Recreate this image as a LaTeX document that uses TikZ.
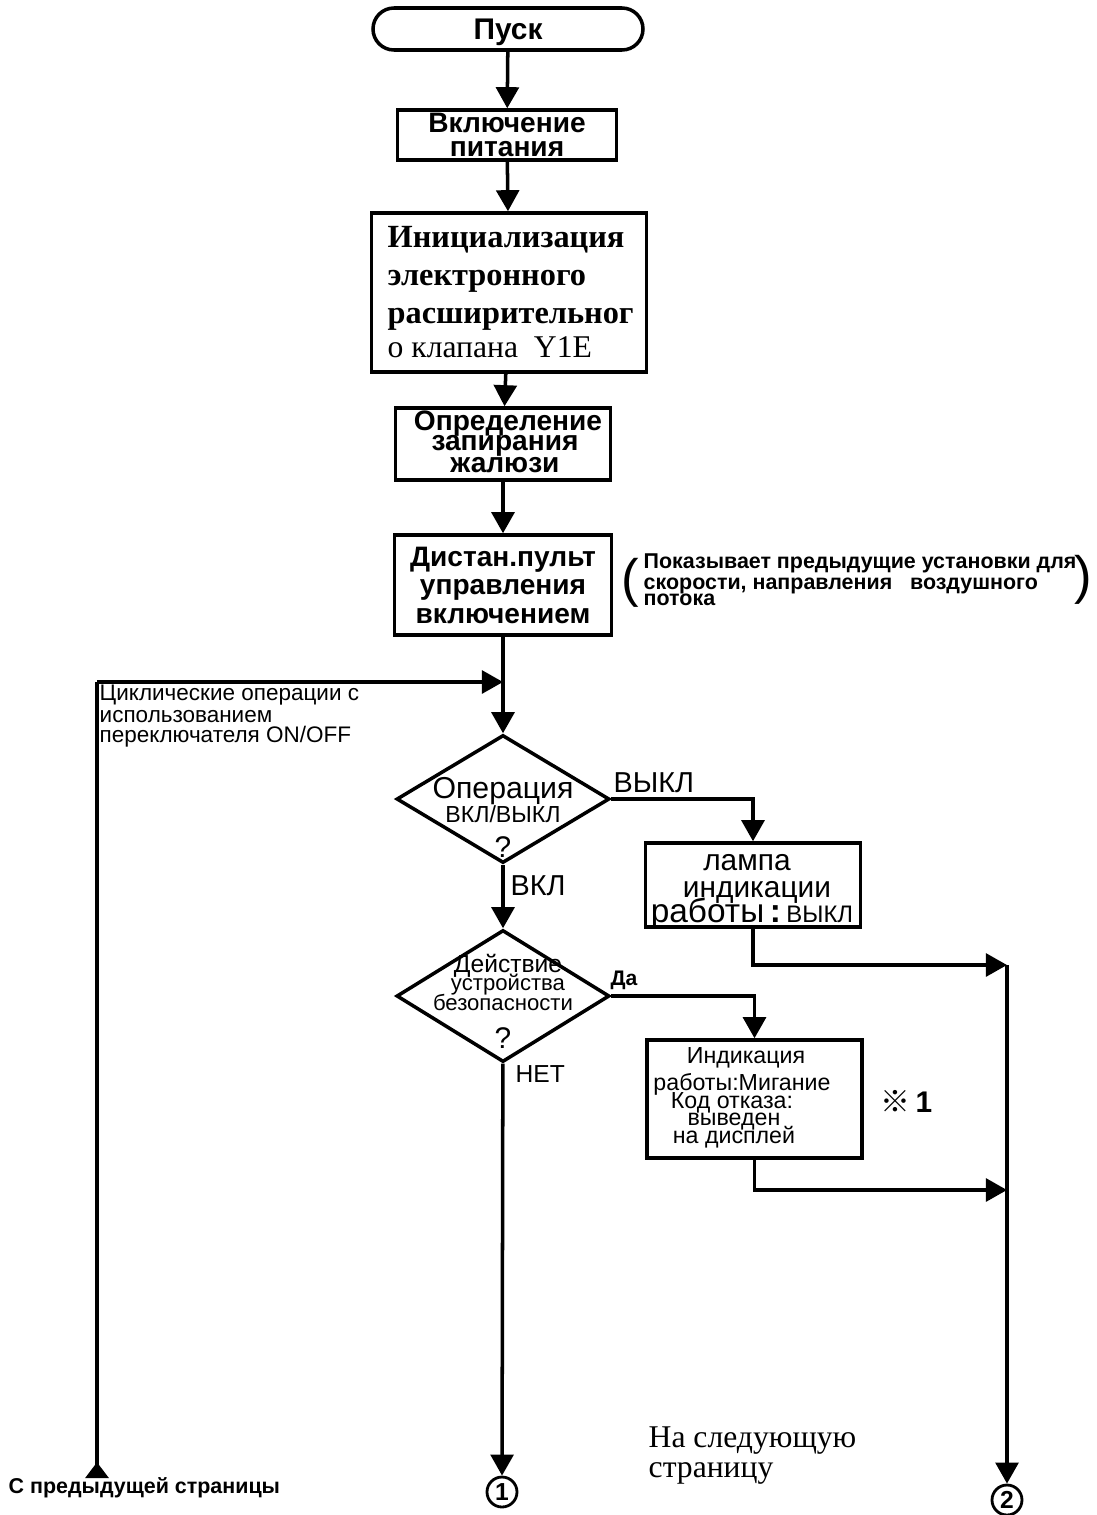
\documentclass[tikz,border=0pt]{standalone}
\usepackage{fontspec}
\setmainfont{Liberation Serif}
\setsansfont{Liberation Sans}
\newfontfamily\cjk{Noto Sans CJK SC}
\usetikzlibrary{backgrounds}
\usetikzlibrary{shapes,shapes.geometric,shapes.misc}
\usetikzlibrary{arrows.meta}
\pgfdeclarelayer{edgelayer}
\pgfdeclarelayer{nodelayer}
\pgfsetlayers{background,edgelayer,nodelayer,main}
\tikzstyle{none}=[inner sep=0mm]
\tikzstyle{term}=[draw,line width=1pt,rounded rectangle,inner sep=0pt,text depth=0pt,minimum width=2.7cm,minimum height=0.42cm,font=\sffamily\bfseries\fontsize{8.5}{8.5}\selectfont]
\tikzstyle{box}=[draw,line width=1pt,rectangle,inner sep=0pt,align=center]
\tikzstyle{decis}=[draw,line width=1pt,diamond,inner sep=0pt,minimum width=2.13cm,minimum height=1.28cm]
\tikzstyle{conn}=[draw,line width=0.8pt,circle,inner sep=0pt,minimum size=0.3cm,font=\sffamily\bfseries\fontsize{7}{7}\selectfont]
\tikzstyle{flow}=[line width=1pt,-{Triangle[length=6pt,width=6.5pt]}]
\tikzstyle{wire}=[line width=1pt]
\tikzstyle{fromprev}=[line width=1pt,{Triangle[reversed,length=4.5pt,width=6.5pt]}-]
\tikzstyle{sf}=[inner sep=0mm,font=\sffamily\fontsize{7}{7}\selectfont]
\tikzstyle{sfb}=[inner sep=0mm,font=\sffamily\bfseries\fontsize{7}{7}\selectfont]

\begin{document}
\begin{tikzpicture}
	\useasboundingbox (0,0) rectangle (10.96,-15.15);
	\begin{pgfonlayer}{nodelayer}
		\node [style=term] (0) at (5.08,-0.29) {Пуск};
		\node [style=box,minimum width=2.19cm,minimum height=0.5cm,font=\sffamily\bfseries\fontsize{8}{6.8}\selectfont] (1) at (5.07,-1.35) {Включение\\питания};
		\node [style=box,minimum width=2.75cm,minimum height=1.59cm] (2) at (5.09,-2.925) {};
		\node [style=none,anchor=base west,font=\rmfamily\bfseries\fontsize{9.2}{9.2}\selectfont] (3) at (3.87,-2.47) {Инициализация};
		\node [style=none,anchor=base west,font=\rmfamily\bfseries\fontsize{9.2}{9.2}\selectfont] (4) at (3.87,-2.85) {электронного};
		\node [style=none,anchor=base west,font=\rmfamily\bfseries\fontsize{9.2}{9.2}\selectfont] (5) at (3.87,-3.23) {расширительног};
		\node [style=none,anchor=base west,font=\rmfamily\fontsize{9}{9}\selectfont] (6) at (3.87,-3.57) {о клапана\ \ Y1E};
		\node [style=box,minimum width=2.15cm,minimum height=0.72cm] (7) at (5.03,-4.44) {};
		\node [style=sfb,anchor=base,font=\sffamily\bfseries\fontsize{8}{8}\selectfont] (48) at (5.08,-4.30) {Определение};
		\node [style=sfb,anchor=base,font=\sffamily\bfseries\fontsize{8}{8}\selectfont] (49) at (5.05,-4.50) {запирания};
		\node [style=sfb,anchor=base,font=\sffamily\bfseries\fontsize{8}{8}\selectfont] (50) at (5.05,-4.72) {жалюзи};
		\node [style=box,minimum width=2.17cm,minimum height=1.0cm,font=\sffamily\bfseries\fontsize{8}{8.1}\selectfont] (8) at (5.03,-5.85) {Дистан.пульт\\управления\\включением};
		\node [style=none,font=\sffamily\fontsize{15}{15}\selectfont] (9) at (6.30,-5.83) {(};
		\node [style=none,font=\sffamily\fontsize{15}{15}\selectfont] (10) at (10.83,-5.80) {)};
		\node [style=sfb,anchor=base west,font=\sffamily\bfseries\fontsize{6.1}{6.1}\selectfont] (11) at (6.43,-5.68) {Показывает предыдущие установки для};
		\node [style=sfb,anchor=base west,font=\sffamily\bfseries\fontsize{6.1}{6.1}\selectfont] (12) at (6.43,-5.89) {скорости, направления\ \ \ воздушного};
		\node [style=sfb,anchor=base west,font=\sffamily\bfseries\fontsize{6.1}{6.1}\selectfont] (13) at (6.43,-6.05) {потока};
		\coordinate (14) at (5.03,-6.82);
		\node [style=sf,anchor=base west,font=\sffamily\fontsize{6.4}{6.4}\selectfont] (15) at (0.99,-7.00) {Циклические операции с};
		\node [style=sf,anchor=base west,font=\sffamily\fontsize{6.4}{6.4}\selectfont] (16) at (0.99,-7.22) {использованием};
		\node [style=sf,anchor=base west,font=\sffamily\fontsize{6.4}{6.4}\selectfont] (17) at (0.99,-7.42) {переключателя ON/OFF};
		\node [style=decis] (18) at (5.03,-7.99) {};
		\node [style=sf,anchor=base,font=\sffamily\fontsize{8.6}{8.6}\selectfont] (19) at (5.03,-7.98) {Операция};
		\node [style=sf,anchor=base,font=\sffamily\fontsize{6.6}{6.6}\selectfont] (20) at (5.03,-8.22) {ВКЛ/ВЫКЛ};
		\node [style=sf,anchor=base,font=\sffamily\fontsize{8.5}{8.5}\selectfont] (21) at (5.03,-8.57) {?};
		\node [style=sf,anchor=base west,font=\sffamily\fontsize{8.2}{8.2}\selectfont] (22) at (6.13,-7.92) {ВЫКЛ};
		\node [style=sf,anchor=base west,font=\sffamily\fontsize{8.2}{8.2}\selectfont] (23) at (5.10,-8.95) {ВКЛ};
		\node [style=box,minimum width=2.15cm,minimum height=0.84cm] (24) at (7.53,-8.85) {};
		\node [style=sf,anchor=base,font=\sffamily\fontsize{8.5}{8.5}\selectfont] (51) at (7.47,-8.70) {лампа};
		\node [style=sf,anchor=base,font=\sffamily\fontsize{8.5}{8.5}\selectfont] (52) at (7.57,-8.97) {индикации};
		\node [style=sf,anchor=base,font=\sffamily\fontsize{9.5}{9.5}\selectfont] (53) at (7.52,-9.22) {работы\,\textbf{:}\,{\fontsize{6.8}{6.8}\selectfont ВЫКЛ}};
		\coordinate (25) at (10.07,-9.65);
		\node [style=decis,minimum height=1.32cm] (26) at (5.03,-9.96) {};
		\node [style=sf,anchor=base,font=\sffamily\fontsize{7}{7}\selectfont] (27) at (5.08,-9.72) {Действие};
		\node [style=sf,anchor=base,font=\sffamily\fontsize{6.3}{6.3}\selectfont] (28) at (5.08,-9.90) {устройства};
		\node [style=sf,anchor=base,font=\sffamily\fontsize{6.3}{6.3}\selectfont] (29) at (5.03,-10.10) {безопасности};
		\node [style=sf,anchor=base,font=\sffamily\fontsize{8.5}{8.5}\selectfont] (30) at (5.03,-10.48) {?};
		\node [style=sfb,anchor=base west,font=\sffamily\bfseries\fontsize{6}{6}\selectfont] (31) at (6.10,-9.85) {Да};
		\node [style=sf,anchor=base west] (32) at (5.15,-10.82) {НЕТ};
		\node [style=box,minimum width=2.15cm,minimum height=1.18cm] (33) at (7.545,-10.99) {};
		\node [style=sf,anchor=base,font=\sffamily\fontsize{6.6}{6.6}\selectfont] (34) at (7.46,-10.63) {Индикация};
		\node [style=sf,anchor=base,font=\sffamily\fontsize{6.6}{6.6}\selectfont] (35) at (7.42,-10.90) {работы:Мигание};
		\node [style=sf,anchor=base,font=\sffamily\fontsize{6.6}{6.6}\selectfont] (36) at (7.32,-11.08) {Код отказа:};
		\node [style=sf,anchor=base,font=\sffamily\fontsize{6.6}{6.6}\selectfont] (37) at (7.34,-11.25) {выведен};
		\node [style=sf,anchor=base,font=\sffamily\fontsize{6.6}{6.6}\selectfont] (38) at (7.34,-11.43) {на дисплей};
		\node [style=sfb,anchor=base west,font=\sffamily\bfseries\fontsize{8.5}{8.5}\selectfont] (39) at (8.80,-11.12) {{\cjk ※}\,1};
		\coordinate (40) at (10.07,-11.90);
		\coordinate (41) at (0.97,-14.78);
		\coordinate (47) at (0.97,-6.82);
		\node [style=sfb,anchor=base west,font=\sffamily\bfseries\fontsize{6.1}{6.1}\selectfont] (42) at (0.08,-14.93) {С предыдущей страницы};
		\node [style=conn] (43) at (5.02,-14.92) {1};
		\node [style=none,anchor=base west,font=\rmfamily\fontsize{9}{9}\selectfont] (44) at (6.48,-14.47) {На следующую};
		\node [style=none,anchor=base west,font=\rmfamily\fontsize{9}{9}\selectfont] (45) at (6.48,-14.77) {страницу};
		\node [style=conn] (46) at (10.07,-15.0) {2};
	\end{pgfonlayer}
	\begin{pgfonlayer}{edgelayer}
		\draw [style=flow] (0) to (1);
		\draw [style=flow] (1) to (2);
		\draw [style=flow] (2) to (7);
		\draw [style=flow] (7) to (8);
		\draw [style=wire] (8) to (14);
		\draw [style=fromprev] (41) to (47);
		\draw [style=flow] (47) to (14);
		\draw [style=flow] (14) to (18);
		\draw [style=flow] (18.east) -| (24);
		\draw [style=flow] (18) to (26);
		\draw [style=flow] (24) |- (25);
		\draw [style=flow] (26.east) -| (33);
		\draw [style=flow] (33) |- (40);
		\draw [style=flow] (25) to (46);
		\draw [style=flow] (26) to (43);
	\end{pgfonlayer}
\end{tikzpicture}
\end{document}
